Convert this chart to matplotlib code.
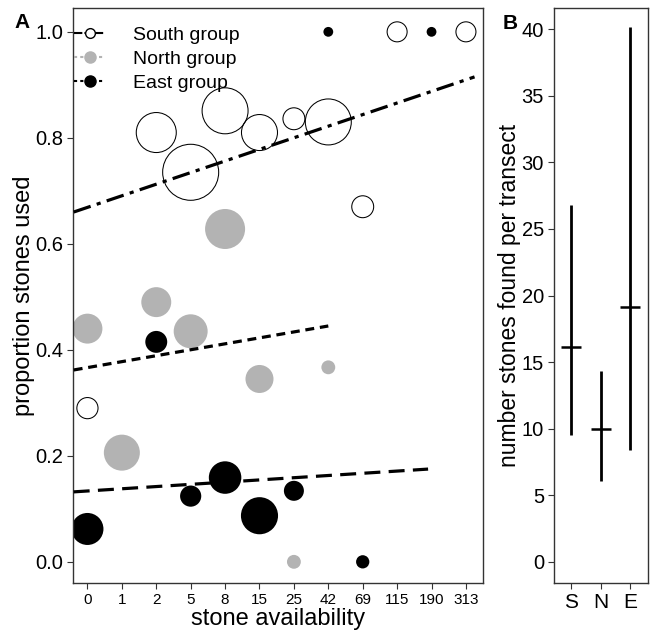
import numpy as np
import matplotlib
matplotlib.use("Agg")
import matplotlib.pyplot as plt
from matplotlib.lines import Line2D

plt.rcParams['font.family'] = ['Liberation Sans', 'DejaVu Sans']

# panel A data
avail_levels = ['0', '1', '2', '5', '8', '15', '25', '42', '69', '115', '190', '313']

south_avail = ['0', '2', '5', '8', '15', '25', '42', '69', '115', '313']
south_prop = [0.29, 0.81, 0.735, 0.851, 0.81, 0.836, 0.83, 0.67, 1.0, 1.0]
south_n = [28, 100, 196, 132, 81, 30, 132, 30, 25, 25]

north_avail = ['0', '1', '2', '5', '8', '15', '25', '42']
north_prop = [0.44, 0.206, 0.49, 0.435, 0.628, 0.345, 0.0, 0.367]
north_n = [56, 81, 56, 72, 100, 49, 12, 12]

east_avail = ['0', '2', '5', '8', '15', '25', '42', '69', '190']
east_prop = [0.062, 0.415, 0.124, 0.159, 0.087, 0.134, 1.0, 0.0, 1.0]
east_n = [64, 30, 28, 66, 86, 25, 6, 11, 6]

# fitted lines (x in category index units)
south_fit_x = [-0.4, 11.25]
south_fit_y = [0.66, 0.915]
north_fit_x = [-0.4, 7.0]
north_fit_y = [0.362, 0.445]
east_fit_x = [-0.4, 9.9]
east_fit_y = [0.132, 0.175]

# panel B data
groups = ['S', 'N', 'E']
stones_mean = [16.1, 10.0, 19.1]
stones_low = [9.5, 6.1, 8.4]
stones_high = [26.8, 14.3, 40.2]

grey = '#b3b3b3'
frame = '#333333'
size_scale = 8.3


def idx(vals):
    return [avail_levels.index(v) for v in vals]


fig = plt.figure(figsize=(6.5, 6.34), dpi=100)
axA = fig.add_axes([0.1123, 0.0804, 0.631, 0.907])
axB = fig.add_axes([0.852, 0.0804, 0.1446, 0.907])

# fit lines
axA.plot(south_fit_x, south_fit_y, color='black', lw=2.3,
         dashes=(5.6, 2.0, 1.3, 2.0), zorder=3)
axA.plot(north_fit_x, north_fit_y, color='black', lw=2.3,
         dashes=(2.8, 1.8), zorder=3)
axA.plot(east_fit_x, east_fit_y, color='black', lw=2.3,
         dashes=(5.0, 2.6), zorder=3)

# points
axA.scatter(idx(north_avail), north_prop, s=np.array(north_n) * size_scale,
            color=grey, edgecolors='none', zorder=2)
axA.scatter(idx(east_avail), east_prop, s=np.array(east_n) * size_scale,
            color='black', edgecolors='none', zorder=2)
axA.scatter(idx(south_avail), south_prop, s=np.array(south_n) * size_scale,
            facecolors='none', edgecolors='black', linewidths=0.75, zorder=2)

axA.set_xlim(-0.42, 11.5)
axA.set_ylim(-0.04, 1.045)
axA.set_xticks(range(len(avail_levels)))
axA.set_xticklabels(avail_levels, fontsize=11)
axA.set_yticks([0.0, 0.2, 0.4, 0.6, 0.8, 1.0])
axA.set_yticklabels(['0.0', '0.2', '0.4', '0.6', '0.8', '1.0'], fontsize=14.5)
axA.set_xlabel('stone availability', fontsize=17, labelpad=1)
axA.set_ylabel('proportion stones used', fontsize=17, labelpad=0)

handles = [
    Line2D([], [], color='black', lw=1.5, dashes=(4, 1), marker='o',
           markersize=7, markerfacecolor='white', markeredgecolor='black'),
    Line2D([], [], color=grey, lw=1.5, dashes=(1.5, 1.5), marker='o',
           markersize=8, markerfacecolor=grey, markeredgecolor=grey),
    Line2D([], [], color='black', lw=1.5, dashes=(1.5, 1.5), marker='o',
           markersize=8, markerfacecolor='black', markeredgecolor='black'),
]
axA.legend(handles, ['South group', 'North group', 'East group'],
           loc='upper left', bbox_to_anchor=(0.003, 0.968), frameon=False,
           fontsize=14, handlelength=1.6, handletextpad=1.4,
           labelspacing=0.32, borderpad=0, borderaxespad=0)

# panel B
xb = np.arange(1, len(groups) + 1)
axB.vlines(xb, stones_low, stones_high, color='black', lw=2.0)
axB.plot(xb, stones_mean, ls='none', marker='_', markersize=14,
         markeredgewidth=1.8, color='black')
axB.set_xlim(0.4, 3.6)
axB.set_ylim(-1.6, 41.6)
axB.set_xticks(xb)
axB.set_xticklabels(groups, fontsize=15)
axB.set_yticks(range(0, 41, 5))
axB.tick_params(axis='y', labelsize=14.5)
axB.set_ylabel('number stones found per transect', fontsize=16.5, labelpad=0.5)

for ax in (axA, axB):
    for sp in ax.spines.values():
        sp.set_color(frame)
        sp.set_linewidth(1.0)
    ax.tick_params(length=4, width=0.8, color=frame, pad=3)

fig.text(0.023, 0.956, 'A', fontsize=15, fontweight='bold')
fig.text(0.774, 0.954, 'B', fontsize=15, fontweight='bold')

fig.savefig('out.png', dpi=100)
